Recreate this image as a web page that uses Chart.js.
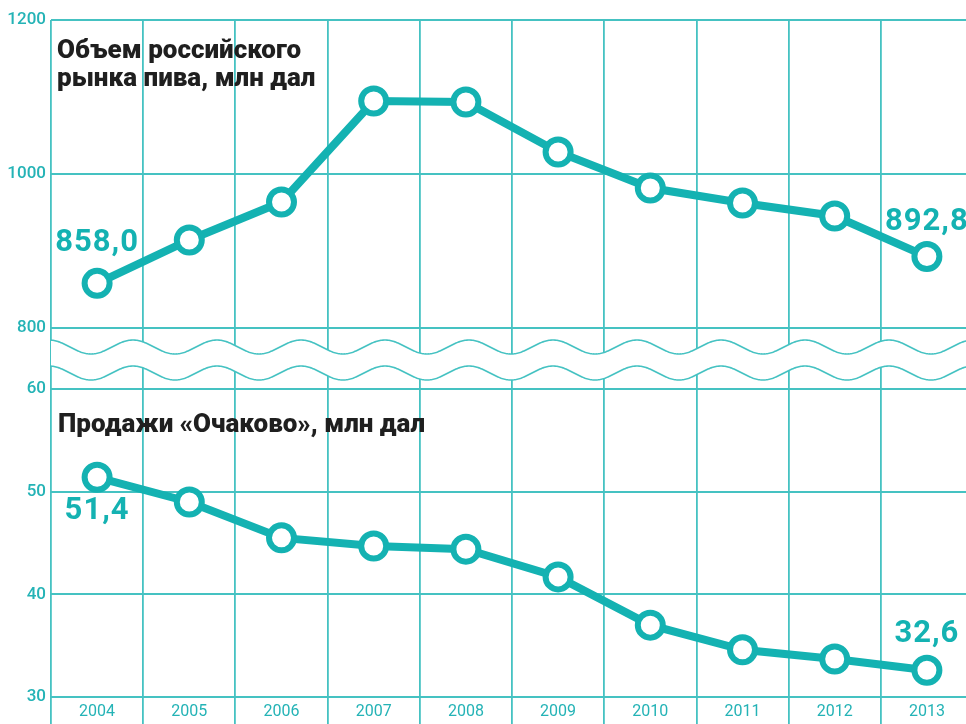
<!DOCTYPE html>
<html lang="ru">
<head>
<meta charset="utf-8">
<title>Рынок пива и продажи «Очаково»</title>
<script src="https://cdn.jsdelivr.net/npm/chart.js@4.4.1/dist/chart.umd.min.js"></script>
<style>
  html, body { margin: 0; padding: 0; background: #fff; overflow: hidden; }
  #frame { width: 966px; height: 724px; overflow: hidden; }
  canvas { display: block; }
</style>
</head>
<body>
<!-- правый край сетки уходит чуть за кадр, как в оригинале -->
<div id="frame"><canvas id="beer-chart" width="973" height="724"></canvas></div>
<script>
const years = ["2004", "2005", "2006", "2007", "2008", "2009", "2010", "2011", "2012", "2013"];
// объем российского рынка пива, млн дал
const marketVolume = [858.0, 914.3, 963.6, 1094.8, 1093.5, 1028.6, 981.8, 962.3, 945.5, 892.8];
// продажи «Очаково», млн дал
const ochakovoSales = [51.4, 49.0, 45.5, 44.7, 44.4, 41.7, 37.0, 34.6, 33.7, 32.6];
const marketTicks = [800, 1000, 1200];
const salesTicks = [30, 40, 50, 60];

const TEAL = "#14b2b2";
const GRID = "#45c2c2";
const LABEL = "#24b3b6";
const FONT = "Roboto, 'Open Sans', sans-serif";

function fmt(v) {
  return v.toFixed(1).replace(".", ",");
}

// волнистый разрыв оси между двумя панелями
const axisBreak = {
  id: "axisBreak",
  beforeDatasetsDraw(chart) {
    const { ctx, chartArea } = chart;
    const left = chartArea.left;
    const right = chart.width;
    const topY = chart.scales.yMarket.getPixelForValue(800) + 19;
    const botY = chart.scales.ySales.getPixelForValue(60) - 16;
    const amp = 7, period = 84, phase = 49;
    const waveY = (cy, x) => cy - amp * Math.cos(2 * Math.PI * (x - phase) / period);

    ctx.save();
    ctx.beginPath();
    for (let x = left; x <= right; x += 1) ctx.lineTo(x, waveY(topY, x));
    for (let x = right; x >= left; x -= 1) ctx.lineTo(x, waveY(botY, x));
    ctx.closePath();
    ctx.fillStyle = "#fff";
    ctx.fill();

    ctx.strokeStyle = GRID;
    ctx.lineWidth = 1.6;
    [topY, botY].forEach((cy) => {
      ctx.beginPath();
      for (let x = left; x <= right; x += 1) ctx.lineTo(x, waveY(cy, x));
      ctx.stroke();
    });
    ctx.restore();
  }
};

// подписи первого и последнего значения
const valueLabels = {
  id: "valueLabels",
  afterDatasetsDraw(chart) {
    const { ctx } = chart;
    const spots = [
      { ds: 0, i: 0, dy: -40 },
      { ds: 0, i: 9, dy: -34 },
      { ds: 1, i: 0, dy: 34 },
      { ds: 1, i: 9, dy: -36 }
    ];
    ctx.save();
    ctx.font = `700 31px ${FONT}`;
    ctx.letterSpacing = "1px";
    ctx.fillStyle = TEAL;
    ctx.textAlign = "center";
    ctx.textBaseline = "middle";
    spots.forEach((s) => {
      const pt = chart.getDatasetMeta(s.ds).data[s.i];
      const value = chart.data.datasets[s.ds].data[s.i];
      ctx.fillText(fmt(value), pt.x, pt.y + s.dy);
    });
    ctx.restore();
  }
};

// заголовки панелей
const panelTitles = {
  id: "panelTitles",
  afterDraw(chart) {
    const { ctx } = chart;
    ctx.save();
    ctx.font = `900 26px ${FONT}`;
    ctx.fillStyle = "#1f1f1f";
    ctx.textAlign = "left";
    ctx.textBaseline = "alphabetic";
    ctx.fillText("Объем российского", 57, 58);
    ctx.fillText("рынка пива, млн дал", 57, 86);
    ctx.fillText("Продажи «Очаково», млн дал", 58, 432);
    ctx.restore();
  }
};

const yTicks = {
  color: LABEL,
  font: { family: FONT, size: 17, weight: 500 },
  padding: 5,
  callback: (v) => String(v)
};

const ctx = document.getElementById("beer-chart").getContext("2d");

new Chart(ctx, {
  type: "line",
  data: {
    labels: years,
    datasets: [
      {
        label: "Объем российского рынка пива, млн дал",
        data: marketVolume,
        yAxisID: "yMarket"
      },
      {
        label: "Продажи «Очаково», млн дал",
        data: ochakovoSales,
        yAxisID: "ySales"
      }
    ].map((d) => ({
      ...d,
      borderColor: TEAL,
      borderWidth: 8,
      pointRadius: 12.5,
      pointHoverRadius: 12.5,
      pointBorderWidth: 6,
      pointBackgroundColor: "#fff",
      pointBorderColor: TEAL,
      tension: 0,
      clip: false
    }))
  },
  options: {
    responsive: false,
    animation: false,
    devicePixelRatio: 1,
    layout: { autoPadding: false, padding: { top: 20, right: 0, left: 0, bottom: 0 } },
    plugins: {
      legend: { display: false },
      tooltip: { enabled: false }
    },
    scales: {
      x: {
        type: "category",
        offset: true,
        grid: { offset: true, color: GRID, lineWidth: 1.8, tickLength: 27 },
        border: { display: false },
        ticks: {
          color: LABEL,
          font: { family: FONT, size: 16 },
          padding: -22,
          maxRotation: 0
        },
        afterFit(scale) { scale.height = 27; }
      },
      yMarket: {
        type: "linear",
        position: "left",
        stack: "panels",
        stackWeight: 338,
        weight: 1,
        min: 761.04,
        max: 1200,
        grid: { color: GRID, lineWidth: 2, drawTicks: false },
        border: { display: false },
        ticks: yTicks,
        afterBuildTicks(scale) { scale.ticks = marketTicks.map((v) => ({ value: v })); },
        afterFit(scale) { scale.width = 51; }
      },
      ySales: {
        type: "linear",
        position: "left",
        stack: "panels",
        stackWeight: 339,
        weight: 0,
        min: 30,
        max: 63.02,
        grid: { color: GRID, lineWidth: 2, drawTicks: false },
        border: { display: false },
        ticks: yTicks,
        afterBuildTicks(scale) { scale.ticks = salesTicks.map((v) => ({ value: v })); },
        afterFit(scale) { scale.width = 51; }
      }
    }
  },
  plugins: [axisBreak, valueLabels, panelTitles]
});
</script>
</body>
</html>
